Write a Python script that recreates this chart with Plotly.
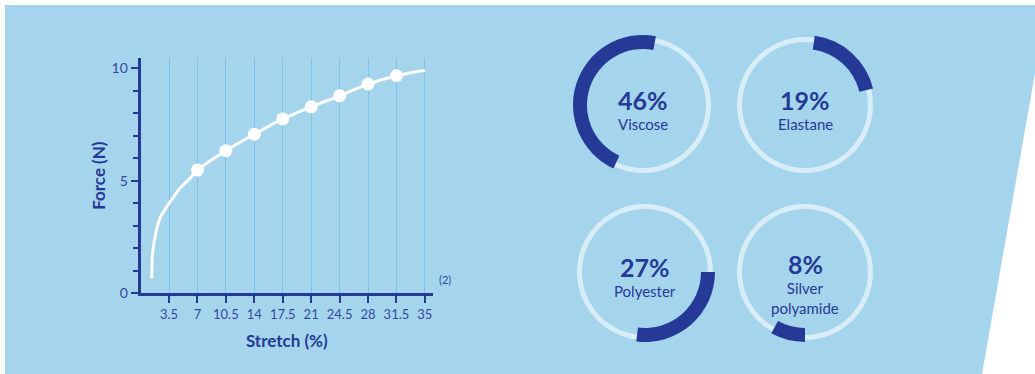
import plotly.graph_objects as go

## Data
stretch_curve = [1.37, 1.40, 1.47, 1.60, 1.80, 2.06, 2.39, 2.88, 3.5, 4.2, 4.85, 6.08, 7,
                 10.5, 14, 17.5, 21, 24.5, 28, 31.5, 35]
force_curve = [0.67, 1.25, 1.75, 2.15, 2.55, 2.96, 3.35, 3.65, 4.0, 4.35, 4.67, 5.11, 5.48,
               6.34, 7.07, 7.75, 8.29, 8.78, 9.30, 9.67, 9.92]
stretch_points = [7, 10.5, 14, 17.5, 21, 24.5, 28, 31.5]
force_points = [5.48, 6.34, 7.07, 7.75, 8.29, 8.78, 9.30, 9.67]
x_ticks = [3.5, 7, 10.5, 14, 17.5, 21, 24.5, 28, 31.5, 35]
x_ticktext = ["3.5", "7", "10.5", "14", "17.5", "21", "24.5", "28", "31.5", "35"]

materials = ["Viscose", "Elastane", "Polyester", "Silver<br>polyamide"]
shares = [46, 19, 27, 8]

## Styles
W, H = 1035, 374
BG = "#a5d5ec"
NAVY = "#253a96"
TICK_TXT = "#34499f"
RING = "#d8edf8"
GRID = "#80c3e8"
FONT = "Lato"

# donut centres (px) and where each arc starts (clockwise from 12 o'clock)
donut_centres = [(643, 105), (805, 105), (645, 272), (805, 272)]
donut_rotation = [205, 8, 90, 180]

fig = go.Figure()

# force / stretch curve
fig.add_trace(go.Scatter(
    x=stretch_curve, y=force_curve, mode="lines",
    line=dict(color="white", width=3, shape="spline", smoothing=1.0),
    hoverinfo="skip", showlegend=False,
))
fig.add_trace(go.Scatter(
    x=stretch_points, y=force_points, mode="markers",
    marker=dict(color="white", size=13),
    showlegend=False,
))


def px_domain(cx, cy, r):
    return dict(x=[(cx - r) / W, (cx + r) / W], y=[1 - (cy + r) / H, 1 - (cy - r) / H])


annotations = []
for i, (name, share) in enumerate(zip(materials, shares)):
    cx, cy = donut_centres[i]
    # thin pale ring
    fig.add_trace(go.Pie(
        values=[1], hole=63 / 68, domain=px_domain(cx, cy, 68),
        marker=dict(colors=[RING], line=dict(width=0)),
        textinfo="none", hoverinfo="skip", sort=False, showlegend=False,
    ))
    # thick share arc
    fig.add_trace(go.Pie(
        values=[share, 100 - share], hole=56 / 70, domain=px_domain(cx, cy, 70),
        marker=dict(colors=[NAVY, "rgba(0,0,0,0)"], line=dict(width=0)),
        rotation=donut_rotation[i], direction="clockwise",
        textinfo="none", sort=False, showlegend=False,
    ))
    two_lines = "<br>" in name
    annotations.append(dict(
        x=cx / W, y=1 - (cy - (8 if two_lines else 5)) / H, xref="paper", yref="paper",
        text=f"<b>{share}%</b>", showarrow=False, xanchor="center", yanchor="middle",
        font=dict(family=FONT, size=25, color=NAVY),
    ))
    annotations.append(dict(
        x=cx / W, y=1 - (cy + (26 if two_lines else 19)) / H, xref="paper", yref="paper",
        text=name, showarrow=False, xanchor="center", yanchor="middle",
        font=dict(family=FONT, size=15, color=NAVY),
    ))

annotations.append(dict(
    x=445 / W, y=1 - 288 / H, xref="paper", yref="paper", text="(2)",
    showarrow=False, font=dict(family=FONT, size=11, color=TICK_TXT), xanchor="center",
))

fig.update_layout(
    width=W, height=H,
    margin=dict(l=0, r=0, t=0, b=0),
    paper_bgcolor="white",
    plot_bgcolor="rgba(0,0,0,0)",
    font=dict(family=FONT, color=NAVY),
    annotations=annotations,
    shapes=[dict(
        type="path", xref="paper", yref="paper", layer="below",
        path=f"M {5/W} {1-5/H} L 1 {1-5/H} L 1 {1-73/H} L {982/W} 0 L {5/W} 0 Z",
        fillcolor=BG, line=dict(width=0),
    )],
    xaxis=dict(
        domain=[140.6 / W, 433 / W], range=[0, 36], automargin=False,
        tickvals=x_ticks, ticktext=x_ticktext,
        ticks="outside", ticklen=7, tickwidth=2, tickcolor=NAVY,
        showline=True, linecolor=NAVY, linewidth=3,
        showgrid=True, gridcolor=GRID, gridwidth=1, zeroline=False,
        tickfont=dict(family=FONT, size=13, color=TICK_TXT),
        title=dict(text="<b>Stretch (%)</b>", font=dict(family=FONT, size=17, color=NAVY), standoff=15),
    ),
    yaxis=dict(
        domain=[1 - 293.3 / H, 1 - 58 / H], range=[0, 10.46], automargin=False,
        tickvals=[0, 5, 10], dtick=5,
        ticks="outside", ticklen=7, tickwidth=2, tickcolor=NAVY,
        minor=dict(dtick=1, ticks="outside", ticklen=5, tickwidth=2, tickcolor=NAVY, showgrid=False),
        showline=True, linecolor=NAVY, linewidth=3,
        showgrid=False, zeroline=False,
        tickfont=dict(family=FONT, size=14, color=TICK_TXT),
        title=dict(text="<b>Force (N)</b>", font=dict(family=FONT, size=17, color=NAVY), standoff=2),
    ),
)

# the page gets no body margin, so the figure sits at the window's corner
fig.write_html("out.html", post_script="document.body.style.margin='0';",
               config={"displayModeBar": False})
